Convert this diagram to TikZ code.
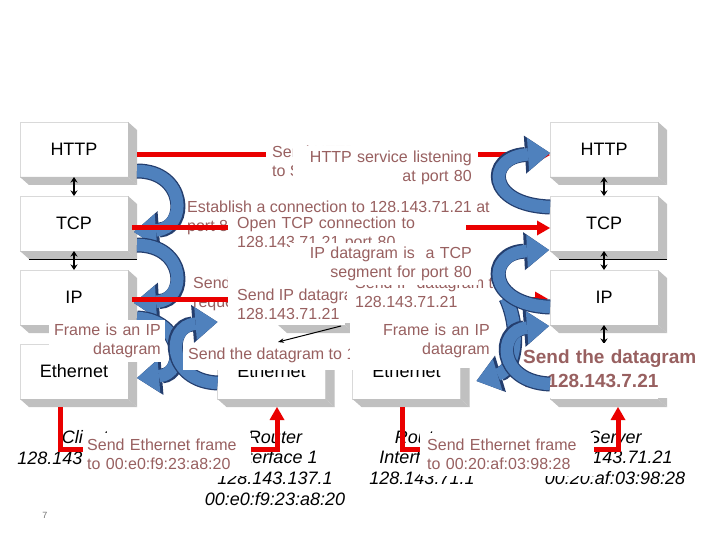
\documentclass[tikz,border=0pt]{standalone}
\usepackage{fontspec}
\setmainfont{Liberation Sans}
\usetikzlibrary{arrows.meta}
\definecolor{notebrown}{RGB}{152,96,96}
\definecolor{sendred}{RGB}{234,0,0}
\definecolor{curlblue}{RGB}{79,129,189}
\definecolor{curlrim}{RGB}{36,62,110}
\definecolor{bandgray}{RGB}{192,192,192}
\newcommand{\dropline}[1]{\rule[-#1]{0pt}{#1}}
\newcommand{\boxbands}[1]{%
  \fill[bandgray] (#1.north east) -- ++(9,8) -- ([shift={(9,8)}]#1.south east) -- (#1.south east) -- cycle;
  \fill[bandgray] (#1.south west) -- (#1.south east) -- ++(9,8) -- ([shift={(9,8)}]#1.south west) -- cycle;}
\newcommand{\curlarrow}[4]{%
  \draw[curlrim, line width=15pt, -{Triangle[length=25pt,width=38pt,line width=0pt]}] #1 .. controls #2 and #3 .. #4;
  \draw[curlblue, line width=12.5pt, -{Triangle[length=22pt,width=33pt,line width=0pt]}] #1 .. controls #2 and #3 .. #4;}

\begin{document}
\begin{tikzpicture}[x=1pt, y=-1pt,
  layerbox/.style={rectangle, fill=white, draw=black!15, line width=0.6pt, minimum width=108pt, minimum height=55pt, inner sep=0pt, outer sep=0pt, font=\fontsize{18}{21}\selectfont},
  hop/.style={line width=1.3pt, {Stealth[length=5.5pt,width=7pt]}-{Stealth[length=5.5pt,width=7pt]}},
  host/.style={font=\fontsize{18}{20.7}\selectfont\itshape, align=center, inner sep=0pt},
  note/.style={font=\fontsize{16}{19}\selectfont, text=notebrown, inner sep=0pt, align=left},
  notebox/.style={note, fill=white},
  sendline/.style={draw=sendred, line width=5pt, -{Triangle[length=13pt,width=15pt,line width=0pt]}}
]
\fill[white] (0,0) rectangle (720,540);
\useasboundingbox (0,0) rectangle (720,540);

% protocol stacks of client and server
\foreach \lay [count=\i from 0] in {HTTP,TCP,IP,Ethernet} {
  \node[layerbox] (c\lay) at (74,{149.5+74*\i}) {\lay};
  \node[layerbox] (s\lay) at (604,{149.5+74*\i}) {\lay};
  \boxbands{c\lay}
  \boxbands{s\lay}
}
% router
\node[layerbox] (rEthA) at (271.5,371.5) {Ethernet};
\node[layerbox] (rEthB) at (406.5,371.5) {Ethernet};
\node[layerbox, draw=none, minimum width=67pt] (rIP) at (311.5,297.5) {};
\boxbands{rEthA}
\boxbands{rEthB}
\boxbands{rIP}
\draw[line width=0.8pt] ([shift={(9,8)}]cTCP.south west) -- ([shift={(9,8)}]cTCP.south east);
\draw[line width=0.8pt] ([shift={(9,8)}]sTCP.south west) -- ([shift={(9,8)}]sTCP.south east);

\foreach \st in {c,s} {
  \draw[hop] (\st HTTP.south) -- (\st TCP.north);
  \draw[hop] (\st TCP.south) -- (\st IP.north);
  \draw[hop] (\st IP.south) -- (\st Ethernet.north);
}

% hosts
\node[host, anchor=north] (cliLbl) at (85,430.5) {Client\\128.143.137.144};
\node[host, anchor=north] (rtALbl) at (275,430.5) {Router\\Interface 1\\128.143.137.1\\00:e0:f9:23:a8:20};
\node[host, anchor=north] (rtBLbl) at (422,430.5) {Router\\Interface 2\\128.143.71.1};
\node[host, anchor=north] (srvLbl) at (615,430.5) {Server\\128.143.71.21\\00:20:af:03:98:28};

\node[note, anchor=north west] (estab) at (187,201) {Establish a connection to 128.143.71.21 at\\port 80};
\node[note, anchor=north west] (askTCP) at (193,277) {Send TCP connection\\request};

% down the client stack
\curlarrow{([shift={(9,21.5)}]cHTTP.east)}{+(49,0)}{+(54,-4)}{([shift={(6,8.5)}]cTCP.east)}
\curlarrow{([shift={(9,21.5)}]cTCP.east)}{+(49,0)}{+(54,-3)}{([shift={(6,5.5)}]cIP.east)}

% peer to peer
\draw[sendline] ([shift={(9,5.5)}]cHTTP.east) -- ([shift={(0,5.5)}]sHTTP.west);
\draw[sendline] ([shift={(4,4.5)}]cTCP.east) -- ([shift={(0,4.5)}]sTCP.west);
\draw[sendline] ([shift={(4,1.5)}]cIP.east) -- ([shift={(-2,1.5)}]sIP.west);
\draw[sendline] ([shift={(-14,8)}]cEthernet.south) -- ++(0,42) -| ([shift={(5.5,8)}]rEthA.south);
\draw[sendline] ([shift={(-4.5,8)}]rEthB.south) -- ++(0,42) -| ([shift={(14,8)}]sEthernet.south);

\node[notebox, anchor=north west, inner xsep=6pt, inner ysep=5pt] (askHTTP) at (266,141) {Send HTTP request\\to Server};
\node[notebox, anchor=north east, text width=173pt, align=right, inner xsep=6pt, inner ysep=5pt] (listen) at (478,146) {HTTP service listening\\at port 80};
\node[notebox, anchor=north west, text width=220pt, inner xsep=9pt, inner ysep=4pt] (openTCP) at (228,213) {Open TCP connection to\\128.143.71.21 port 80\dropline{34pt}};
\node[notebox, anchor=north west, inner xsep=9pt, inner ysep=3pt] (sendIPa) at (228,286) {Send IP datagram to\\128.143.71.21};
\node[notebox, anchor=north west, inner xsep=8pt, inner ysep=4pt] (sendIPb) at (347,273) {Send IP datagram to\\128.143.71.21};
\node[notebox, anchor=north east, text width=176pt, align=right, inner xsep=6pt, inner ysep=4pt] (ipSeg) at (478,243) {IP datagram is~ a TCP\\segment for port 80};

\coordinate (tickEnd) at (278,342);
\draw[line width=1pt, -{Stealth[length=6pt]}] ([shift={(-4,1)}]rIP.south east) -- (tickEnd);

\curlarrow{([shift={(9,20.5)}]cIP.east)}{+(47,2)}{+(49,-4)}{([shift={(9,6.5)}]cEthernet.east)}
\node[notebox, anchor=north east, text width=108pt, align=right, inner xsep=4pt, inner ysep=4pt] (frameA) at (165,320) {Frame is an IP\\datagram};

\curlarrow{([shift={(0,11.5)}]rEthA.west)}{+(-50,-2)}{+(-52,4)}{([shift={(0,-22)}]rEthA.north west)}
\node[notebox, anchor=north west, inner xsep=5pt, inner ysep=5pt] (sendDG) at (183,343) {Send the datagram to 128.143.71.21\dropline{5pt}};
\node[notebox, anchor=north east, text width=136pt, align=right, inner xsep=4pt, inner ysep=4pt] (frameB) at (494,320) {Frame is an IP\\datagram\dropline{9pt}};

\node[notebox, anchor=north west, text width=160pt, inner xsep=4pt, inner ysep=6pt] (ethA) at (83,433) {Send Ethernet frame\\to 00:e0:f9:23:a8:20};
\node[notebox, anchor=north west, text width=160pt, inner xsep=7pt, inner ysep=6pt] (ethB) at (420,433) {Send Ethernet frame\\to 00:20:af:03:98:28};

\node[notebox, anchor=north west, text width=180pt, inner xsep=8pt, inner ysep=7pt, font=\fontsize{19}{23.5}\selectfont\bfseries] (bigSend) at (515,343) {Send the datagram\\to 128.143.7.21\dropline{4pt}};

% up the server stack
\curlarrow{([shift={(-44,0.5)}]sIP.west)}{+(14,30)}{+(40,-12)}{([shift={(16,9.5)}]rEthB.east)}
\curlarrow{([shift={(0,-16.5)}]sTCP.west)}{+(-64,-2)}{+(-64,4)}{([shift={(0,3.5)}]sHTTP.west)}
\curlarrow{([shift={(0,9.5)}]sIP.west)}{+(-64,-2)}{+(-63,3)}{([shift={(-1,26.5)}]sTCP.west)}
\curlarrow{([shift={(0,12.5)}]sEthernet.west)}{+(-53,-2)}{+(-52,4)}{([shift={(-1,28.5)}]sIP.west)}

\node[text=black!55, font=\fontsize{9}{11}\selectfont] (pageNo) at (45,515) {7};
\end{tikzpicture}
\end{document}
